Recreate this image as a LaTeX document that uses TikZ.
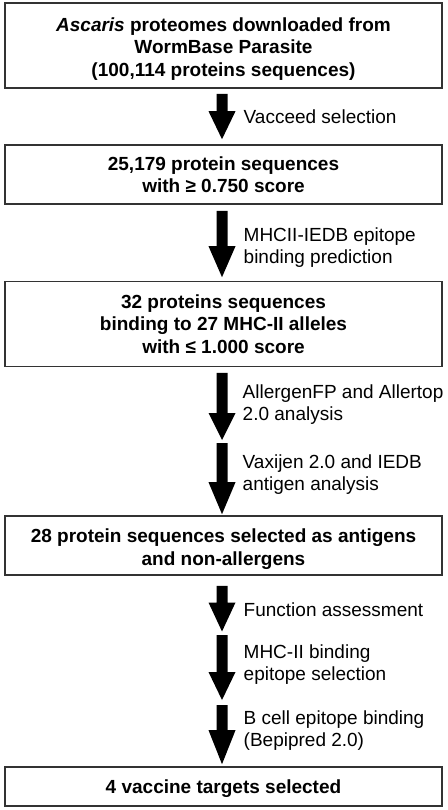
\documentclass[tikz,border=0pt]{standalone}
\usepackage{fontspec}
\setmainfont{Liberation Sans}
\usetikzlibrary{calc}
\newcommand\blockarrow[3]{%
  \fill[black] let \p1=(#1), \p2=(#2) in
    (\x1-5.5pt,\y1) -- (\x1+5.5pt,\y1) -- (\x1+5.5pt,\y2+#3pt) --
    (\x1+13.5pt,\y2+#3pt) -- (\x2,\y2) -- (\x1-13.5pt,\y2+#3pt) --
    (\x1-5.5pt,\y2+#3pt) -- cycle;}
\newcommand\topstrut[1]{\rule{0pt}{#1pt}}
\begin{document}
\begin{tikzpicture}[x=1pt,y=-1pt,
  box/.style={draw=black!80, line width=1.6pt, minimum width=437pt,
    inner sep=0pt, align=center,
    font=\fontsize{19}{22.5}\selectfont\bfseries},
  lbl/.style={anchor=base west, inner sep=0pt, align=left,
    font=\fontsize{19}{22}\selectfont}]
\useasboundingbox (0,0) rectangle (447,810);
\fill[white] (0,0) rectangle (447,810);

\node[box, minimum height=85pt] (b1) at (223.5,45.5)
  {\topstrut{20}\textit{Ascaris} proteomes downloaded from\\WormBase Parasite\\(100,114 proteins sequences)};
\node[box, minimum height=59pt] (b2) at (223.5,174.5)
  {25,179 protein sequences\\with ≥ 0.750 score};
\node[box, minimum height=85pt] (b3) at (223.5,324)
  {32 proteins sequences\\binding to 27 MHC-II alleles\\with ≤ 1.000 score};
\node[box, minimum height=59pt] (b4) at (223.5,545.5)
  {\topstrut{21.5}28 protein sequences selected as antigens\\and non-allergens};
\node[box, minimum height=39pt] (b5) at (223.5,786.5)
  {\topstrut{19}4 vaccine targets selected};

\coordinate (m1) at (222,441.5);
\coordinate (m2) at (222,633.3);
\coordinate (m3) at (222,702.5);

\coordinate (t1) at ($(b1.south)+(-1.5,5)$);
\coordinate (e1) at ($(b2.north)+(-1.5,-5)$);
\coordinate (t2) at ($(b2.south)+(-1.5,6)$);
\coordinate (e2) at ($(b3.north)+(-1.5,-3.5)$);
\coordinate (t3) at ($(b3.south)+(-1.5,5.5)$);
\coordinate (e3) at ($(m1)+(0,-1.5)$);
\coordinate (t4) at ($(m1)+(0,1.5)$);
\coordinate (e4) at ($(b4.north)+(-1.5,-1)$);
\coordinate (t5) at ($(b4.south)+(-1.5,10)$);
\coordinate (e5) at ($(m2)+(0,-1.8)$);
\coordinate (t6) at ($(m2)+(0,1.7)$);
\coordinate (e6) at ($(m3)+(0,-2.5)$);
\coordinate (t7) at ($(m3)+(0,2.5)$);
\coordinate (e7) at ($(b5.north)+(-1.5,-2)$);

\blockarrow{t1}{e1}{28}
\blockarrow{t2}{e2}{31}
\blockarrow{t3}{e3}{27}
\blockarrow{t4}{e4}{32}
\blockarrow{t5}{e5}{29}
\blockarrow{t6}{e6}{28}
\blockarrow{t7}{e7}{34}

\node[lbl] (l1) at (243.5,123.3) {Vacceed selection};
\node[lbl] (l2) at (243.5,263.5) {MHCII-IEDB epitope\\binding prediction};
\node[lbl] (l3) at (242.5,420.3) {AllergenFP and Allertop\\2.0 analysis};
\node[lbl] (l4) at (242.5,490.3) {Vaxijen 2.0 and IEDB\\antigen analysis};
\node[lbl] (l5) at (243.5,616) {Function assessment};
\node[lbl] (l6) at (243.5,680.3) {MHC-II binding\\epitope selection};
\node[lbl] (l7) at (243.5,746.5) {B cell epitope binding\\(Bepipred 2.0)};
\end{tikzpicture}
\end{document}
